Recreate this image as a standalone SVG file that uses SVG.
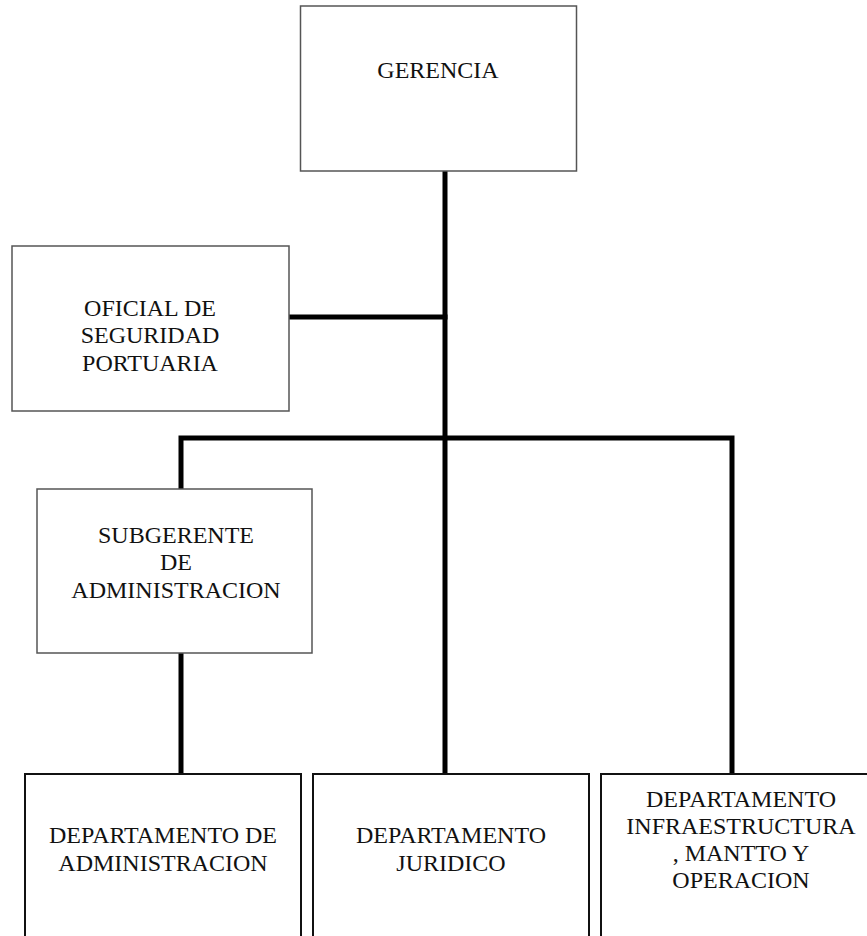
<svg xmlns="http://www.w3.org/2000/svg" width="867" height="936" viewBox="0 0 867 936">
<style>
.box{fill:#fff;stroke:#555;stroke-width:1.5}
.bbox{fill:#fff;stroke:#111;stroke-width:2}
.t{font-family:"Liberation Serif","Times New Roman",serif;font-size:24px;fill:#111;text-anchor:middle}
.c{stroke:#000;stroke-width:5;fill:none;stroke-linecap:square}
</style>
<rect width="867" height="936" fill="#fff"/>
<g id="connectors">
<line class="c" x1="445" y1="172" x2="445" y2="772"/>
<line class="c" x1="290" y1="317" x2="445" y2="317"/>
<polyline class="c" points="181,488 181,438 732,438 732,772"/>
<line class="c" x1="181" y1="654" x2="181" y2="772"/>
</g>
<g id="gerencia">
<rect class="box" x="300.5" y="6" width="276" height="165"/>
<text class="t" x="438" y="78">GERENCIA</text>
</g>
<g id="oficial">
<rect class="box" x="12" y="246" width="277" height="165"/>
<text class="t" x="150" y="316">OFICIAL DE</text>
<text class="t" x="150" y="343">SEGURIDAD</text>
<text class="t" x="150" y="371">PORTUARIA</text>
</g>
<g id="subgerente">
<rect class="box" x="37" y="489" width="275" height="164"/>
<text class="t" x="176" y="543">SUBGERENTE</text>
<text class="t" x="176" y="570">DE</text>
<text class="t" x="176" y="598">ADMINISTRACION</text>
</g>
<g id="dep-admin">
<rect class="bbox" x="25" y="774" width="276" height="180"/>
<text class="t" x="163" y="843">DEPARTAMENTO DE</text>
<text class="t" x="163" y="871">ADMINISTRACION</text>
</g>
<g id="dep-juridico">
<rect class="bbox" x="313" y="774" width="276" height="180"/>
<text class="t" x="451" y="843">DEPARTAMENTO</text>
<text class="t" x="451" y="871">JURIDICO</text>
</g>
<g id="dep-infra">
<rect class="bbox" x="601" y="774" width="280" height="180"/>
<text class="t" x="741" y="807">DEPARTAMENTO</text>
<text class="t" x="741" y="834">INFRAESTRUCTURA</text>
<text class="t" x="741" y="861">, MANTTO Y</text>
<text class="t" x="741" y="888">OPERACION</text>
</g>
</svg>
